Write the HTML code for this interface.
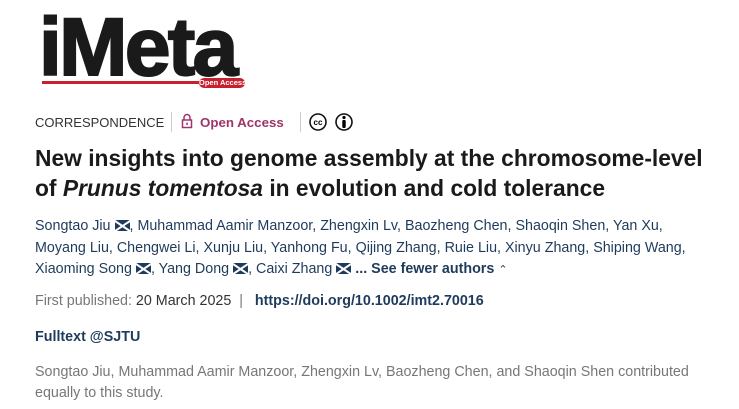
<!DOCTYPE html>
<html><head><style>
body{margin:0;width:739px;height:409px;background:#fff;font-family:"Liberation Sans",sans-serif;position:relative;overflow:hidden}
.a{position:absolute;white-space:nowrap}
.au{color:#1f3b5c;font-size:14.3px}
.m{display:inline-block;width:15px;height:11px;background:#1f3b5c;vertical-align:-1px;position:relative;overflow:hidden}
.m:before,.m:after{content:"";position:absolute;left:-2px;top:5px;width:19px;height:1.5px;background:#fff;transform:rotate(34deg)}
.m:after{transform:rotate(-34deg)}
</style></head><body>
<div class="a" style="left:39px;top:1px;font-size:82px;font-weight:900;letter-spacing:-2.6px;color:#1a1a1a;-webkit-text-stroke:2px #1a1a1a">iMeta</div>
<div class="a" style="left:42px;top:81px;width:160px;height:3px;background:#c8202f"></div>
<div class="a" style="left:199px;top:78px;width:46px;height:10px;border-radius:5px;background:#c8202f;color:#fff;font-size:7.5px;line-height:10px;text-align:center;font-weight:bold">Open Access</div>
<div class="a" style="left:35px;top:115px;font-size:13px;color:#333">CORRESPONDENCE</div>
<div class="a" style="left:171px;top:112px;width:1px;height:20px;background:#ccc"></div>
<svg class="a" style="left:181px;top:113px" width="12" height="16"><path d="M3 7V4.5a3 3 0 0 1 6 0V7" fill="none" stroke="#a0336b" stroke-width="1.5"/><rect x="1.5" y="7" width="9" height="7.5" fill="none" stroke="#a0336b" stroke-width="1.5"/><rect x="5.3" y="9.5" width="1.5" height="2.5" fill="#a0336b"/></svg>
<div class="a" style="left:200px;top:115px;font-size:13.3px;color:#a0336b;font-weight:bold">Open Access</div>
<div class="a" style="left:300px;top:112px;width:1px;height:20px;background:#ccc"></div>
<svg class="a" style="left:309px;top:112px" width="46" height="20"><circle cx="9" cy="10" r="8" fill="none" stroke="#111" stroke-width="1.6"/><text x="9" y="13" font-size="8" font-weight="bold" text-anchor="middle" font-family="Liberation Sans">cc</text><circle cx="35" cy="10" r="8" fill="none" stroke="#111" stroke-width="1.6"/><circle cx="35" cy="5.5" r="1.6"/><rect x="33.3" y="8" width="3.4" height="8" rx="1"/></svg>
<div class="a" style="left:35px;top:143px;font-size:22.8px;font-weight:bold;color:#1a1a1a;line-height:30px">New insights into genome assembly at the chromosome-level<br>of <i>Prunus tomentosa</i> in evolution and cold tolerance</div>
<div class="a au" style="left:35px;top:216px;line-height:21.5px">Songtao Jiu <span class="m"></span>, Muhammad Aamir Manzoor, Zhengxin Lv, Baozheng Chen, Shaoqin Shen, Yan Xu,<br>Moyang Liu, Chengwei Li, Xunju Liu, Yanhong Fu, Qijing Zhang, Ruie Liu, Xinyu Zhang, Shiping Wang,<br>Xiaoming Song <span class="m"></span>, Yang Dong <span class="m"></span>, Caixi Zhang <span class="m"></span> <b>... See fewer authors</b> <span style="font-size:11px">&#8963;</span></div>
<div class="a" style="left:35px;top:293px;font-size:14.3px;color:#777">First published: <span style="color:#333">20 March 2025</span> &nbsp;| &nbsp; <b style="color:#1f3b5c">https://doi.org/10.1002/imt2.70016</b></div>
<div class="a" style="left:35px;top:329px;font-size:14.3px;color:#1f3b5c;font-weight:bold">Fulltext @SJTU</div>
<div class="a" style="left:35px;top:362px;font-size:14.3px;color:#777;line-height:21px">Songtao Jiu, Muhammad Aamir Manzoor, Zhengxin Lv, Baozheng Chen, and Shaoqin Shen contributed<br>equally to this study.</div>
</body></html>
